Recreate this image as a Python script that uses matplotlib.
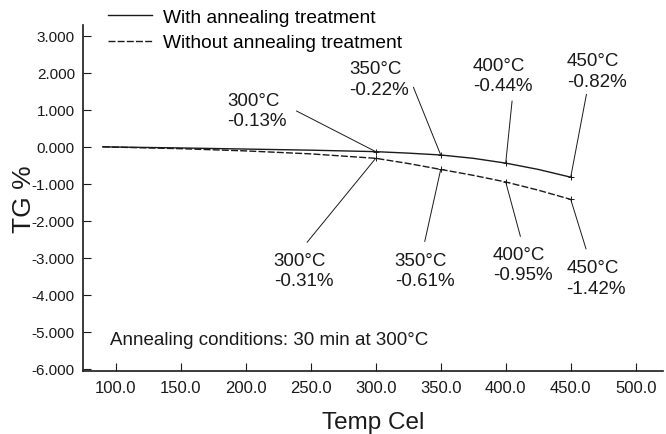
import matplotlib
matplotlib.use("Agg")
import matplotlib.pyplot as plt

plt.rcParams['font.family'] = ['Liberation Sans', 'DejaVu Sans']
narrow = ['Liberation Sans Narrow', 'Liberation Sans', 'DejaVu Sans']

# curve data
temp = [90, 150, 200, 250, 300, 325, 350, 375, 400, 425, 450]
tg_with = [0.0, -0.03, -0.06, -0.09, -0.13, -0.17, -0.22, -0.31, -0.44, -0.61, -0.82]
tg_without = [0.0, -0.05, -0.11, -0.19, -0.31, -0.45, -0.61, -0.77, -0.95, -1.17, -1.42]

# labelled points
mark_temp = [300, 350, 400, 450]
mark_with = [-0.13, -0.22, -0.44, -0.82]
mark_without = [-0.31, -0.61, -0.95, -1.42]

xticks = [100, 150, 200, 250, 300, 350, 400, 450, 500]
yticks = [3, 2, 1, 0, -1, -2, -3, -4, -5, -6]

# label placement: (text x, text top y, leader end x, leader end y)
upper_pos = [(185.8, 1.48, 239.0, 0.97), (279.8, 2.34, 329.0, 1.61),
             (374.9, 2.44, 404.9, 1.24), (447.2, 2.55, 462.1, 1.42)]
lower_pos = [(221.5, -2.84, 247.2, -2.58), (314.6, -2.84, 337.7, -2.56),
             (390.3, -2.67, 411.3, -2.42), (446.7, -3.04, 461.8, -2.76)]

fig = plt.figure(figsize=(6.66, 4.35), dpi=100)
ax = fig.add_axes([0.125, 0.1455, 0.8705, 0.7945])

ink = '#1a1a1a'
l1, = ax.plot(temp, tg_with, color=ink, lw=1.0, label='With annealing treatment')
l2, = ax.plot(temp, tg_without, color=ink, lw=1.0, ls=(0, (5, 1.6)),
              label='Without annealing treatment')
ax.plot(mark_temp, mark_with, ls='none', marker='+', ms=4, mew=0.7, color=ink)
ax.plot(mark_temp, mark_without, ls='none', marker='+', ms=4, mew=0.7, color=ink)

for t, v, (tx, ty, lx, ly) in zip(mark_temp, mark_with, upper_pos):
    ax.annotate('', xy=(t, v), xytext=(lx, ly),
                arrowprops=dict(arrowstyle='-', lw=0.7, color=ink, shrinkA=0, shrinkB=0))
    ax.text(tx, ty, f'{t}°C\n{v:.2f}%', ha='left', va='top', fontsize=13.5,
            color=ink, linespacing=1.25)

for t, v, (tx, ty, lx, ly) in zip(mark_temp, mark_without, lower_pos):
    ax.annotate('', xy=(t, v), xytext=(lx, ly),
                arrowprops=dict(arrowstyle='-', lw=0.7, color=ink, shrinkA=0, shrinkB=0))
    ax.text(tx, ty, f'{t}°C\n{v:.2f}%', ha='left', va='top', fontsize=13.5,
            color=ink, linespacing=1.25)

ax.text(95.4, -5.2, 'Annealing conditions: 30 min at 300°C', ha='left', va='center',
        fontsize=13.5, color=ink)

ax.set_xlim(75, 521)
ax.set_ylim(-6.05, 3.29)
ax.set_xticks(xticks)
ax.set_xticklabels([f'{x:.1f}' for x in xticks], family=narrow, fontsize=12)
ax.set_yticks(yticks)
ax.set_yticklabels([f'{y:.3f}' for y in yticks], family=narrow, fontsize=11)
ax.tick_params(direction='in', length=6, width=0.8, colors=ink)
ax.tick_params(axis='x', pad=7)
ax.tick_params(axis='y', pad=6)

for side in ['top', 'right']:
    ax.spines[side].set_visible(False)
for side in ['left', 'bottom']:
    ax.spines[side].set_linewidth(1.2)
    ax.spines[side].set_color(ink)

ax.set_xlabel('Temp Cel', fontsize=17.5, color=ink, labelpad=11)
ax.set_ylabel('TG %', fontsize=19, color=ink, labelpad=-3)

fig.legend(handles=[l1, l2], loc='upper left', bbox_to_anchor=(0.162, 0.978),
           frameon=False, fontsize=13.8, handlelength=2.3, handletextpad=0.58,
           labelspacing=0.42, borderaxespad=0, borderpad=0)

fig.savefig('out.png', dpi=100)
